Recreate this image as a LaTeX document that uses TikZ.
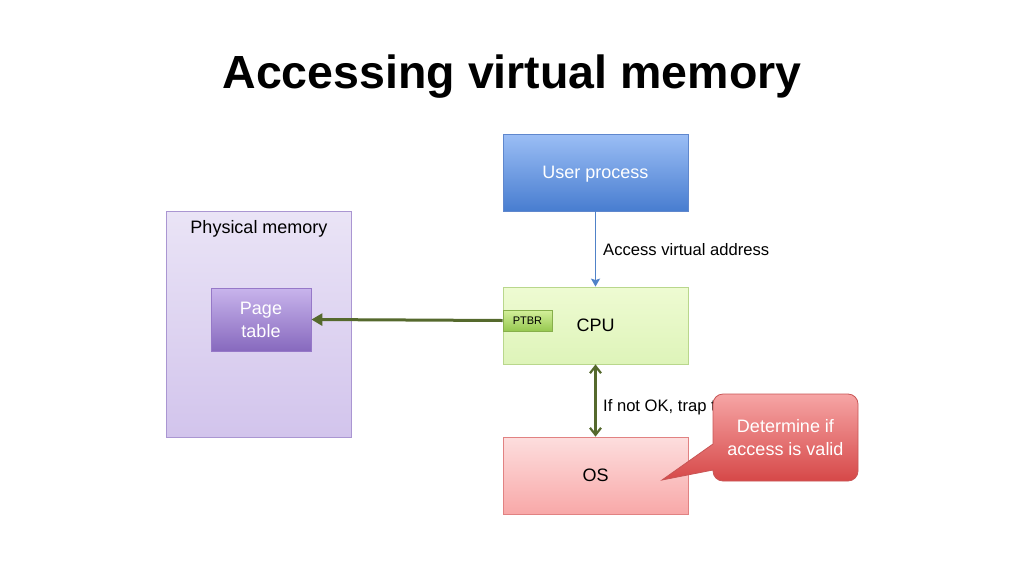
\documentclass[tikz,border=0pt]{standalone}
\usepackage{fontspec}
\setmainfont{Liberation Sans}
\usetikzlibrary{arrows.meta}
\definecolor{upTop}{RGB}{155,190,245}
\definecolor{upBot}{RGB}{72,125,208}
\definecolor{upLine}{RGB}{95,135,205}
\definecolor{cpuTop}{RGB}{238,251,210}
\definecolor{cpuBot}{RGB}{222,244,185}
\definecolor{cpuLine}{RGB}{185,215,140}
\definecolor{ptTop}{RGB}{212,240,155}
\definecolor{ptBot}{RGB}{150,200,80}
\definecolor{ptLine}{RGB}{135,175,75}
\definecolor{pmTop}{RGB}{234,228,246}
\definecolor{pmBot}{RGB}{210,196,236}
\definecolor{pmLine}{RGB}{170,150,210}
\definecolor{pgTop}{RGB}{200,180,236}
\definecolor{pgBot}{RGB}{135,105,190}
\definecolor{pgLine}{RGB}{150,120,200}
\definecolor{osTop}{RGB}{253,222,222}
\definecolor{osBot}{RGB}{248,168,168}
\definecolor{osLine}{RGB}{225,130,130}
\definecolor{coTop}{RGB}{246,165,165}
\definecolor{coBot}{RGB}{214,72,72}
\definecolor{coLine}{RGB}{200,85,85}
\definecolor{olive}{RGB}{85,105,45}
\definecolor{blueArrow}{RGB}{80,130,200}
\begin{document}
\begin{tikzpicture}[x=1pt,y=-1pt,
  box/.style={draw, line width=0.8pt, inner sep=0pt, align=center,
    font=\fontsize{18}{23}\selectfont},
  bigbox/.style={box, minimum width=185pt, minimum height=77pt, text depth=0pt},
  lbl/.style={anchor=base west, inner sep=0pt, font=\fontsize{16.6}{20}\selectfont},
  bluearrow/.style={draw=blueArrow, line width=1.8pt, -{Stealth[length=8pt,width=9pt,inset=1.5pt]}},
  olivethick/.style={draw=olive, line width=3pt, -{Triangle[length=11pt,width=12pt]}},
  olivedouble/.style={draw=olive, line width=2.2pt, {Straight Barb[length=7pt,width=11pt]}-{Straight Barb[length=7pt,width=11pt]}}
]
\useasboundingbox (0,0) rectangle (1024,576);

\node[anchor=base, inner sep=0pt, font=\fontsize{46.5}{50}\selectfont\bfseries] (title) at (512,88) {Accessing virtual memory};

\node[box, minimum width=185pt, minimum height=226pt, top color=pmTop, bottom color=pmBot, draw=pmLine] (pm) at (258.5,324) {};
\node[anchor=base, inner sep=0pt, font=\fontsize{18}{23}\selectfont] (pmlabel) at (259,233) {Physical memory};
\node[box, minimum width=100pt, minimum height=63pt, top color=pgTop, bottom color=pgBot, draw=pgLine, text=white] (pt) at (261,319.5) {Page\\table};

\node[bigbox, top color=upTop, bottom color=upBot, draw=upLine, text=white] (user) at (595.5,172.5) {User process};
\node[bigbox, top color=cpuTop, bottom color=cpuBot, draw=cpuLine] (cpu) at (595.5,325.5) {CPU};
\node[box, minimum width=49pt, minimum height=21pt, top color=ptTop, bottom color=ptBot, draw=ptLine, font=\fontsize{11}{13}\selectfont] (ptbr) at (527.5,320.5) {PTBR};
\node[bigbox, top color=osTop, bottom color=osBot, draw=osLine] (os) at (595.5,475.5) {OS};

\draw[bluearrow] (user.south) -- (cpu.north);
\node[lbl] (l1) at (603,255) {Access virtual address};
\draw[olivethick] (ptbr.west) -- (pt.east);
\draw[olivedouble] (cpu.south) -- (os.north);
\node[lbl] (l2) at (603,411) {If not OK, trap to OS};

\coordinate (ostip) at (662,480);
\shadedraw[top color=coTop, bottom color=coBot, draw=coLine, line width=0.8pt]
  (713,444) [rounded corners=10pt] -- (713,394) -- (858,394) -- (858,481) -- (713,481) [sharp corners] -- (713,470) -- (ostip) -- cycle;
\node[inner sep=0pt, align=center, text=white, font=\fontsize{18}{23}\selectfont] (callout) at (785.5,438) {Determine if\\access is valid};
\end{tikzpicture}
\end{document}
